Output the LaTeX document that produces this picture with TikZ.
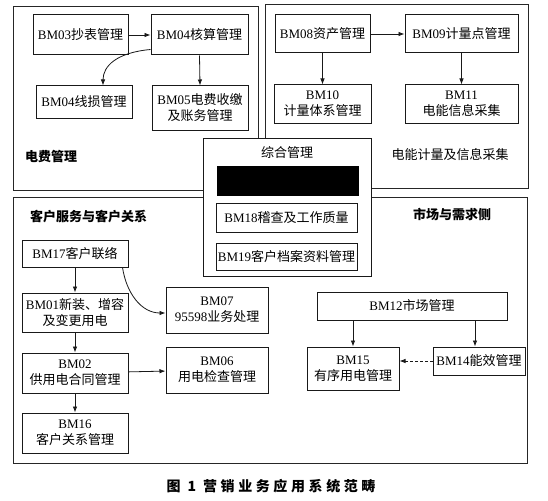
\documentclass[tikz,border=0pt]{standalone}
\usepackage{fontspec}
\setmainfont{Noto Sans CJK SC}
\newfontfamily\lat{Liberation Serif}
\usetikzlibrary{arrows.meta,calc}
\newcommand{\bm}[1]{{\lat BM#1}}
\newcommand{\cs}{\hspace{3.6pt}}
\tikzset{
  frame/.style={draw=black!85, line width=1pt},
  box/.style={draw=black!90, line width=1pt, fill=white, inner sep=0pt, align=center,
    font=\fontsize{13}{16}\selectfont},
  arr/.style={draw=black!90, line width=0.8pt, -{Latex[length=6pt,width=4.5pt]}},
  grp/.style={font=\fontsize{13}{15}\selectfont\bfseries, inner sep=0pt},
  lbl/.style={font=\fontsize{13}{15}\selectfont, inner sep=0pt},
}
\begin{document}
\begin{tikzpicture}[x=1pt,y=-1pt]
\useasboundingbox (0,0) rectangle (548,500);
% group frames
\draw[frame] (13,7) rectangle (258,190);
\draw[frame] (265,5) rectangle (528,188);
\draw[frame] (13,197) rectangle (527,463);

% 电费管理
\node[box, minimum width=95pt, minimum height=40pt] (bm03) at (80.5,35) {\bm{03}抄表管理};
\node[box, minimum width=97pt, minimum height=40pt] (bm04b) at (199.5,35) {\bm{04}核算管理};
\node[box, minimum width=96pt, minimum height=32pt] (bm04l) at (84,102) {\bm{04}线损管理};
\node[box, minimum width=96pt, minimum height=44pt] (bm05) at (200,108) {\bm{05}电费收缴\\及账务管理};
\node[grp, anchor=west] (g1) at (25,157) {电费管理};
\draw[arr] (bm03) -- (bm04b);
\draw[arr] (bm04b.south) -- (bm05.north);
\draw[arr] ([yshift=6pt]bm04b.south west) .. controls +(-33,3) and +(0,-20) .. ([xshift=19pt]bm04l.north);

% 电能计量及信息采集
\node[box, minimum width=95pt, minimum height=38pt] (bm08) at (322.5,34) {\bm{08}资产管理};
\node[box, minimum width=113pt, minimum height=38pt] (bm09) at (461.5,34) {\bm{09}计量点管理};
\node[box, minimum width=97pt, minimum height=38pt] (bm10) at (322.5,104) {\bm{10}\\计量体系管理};
\node[box, minimum width=113pt, minimum height=38pt] (bm11) at (461.5,104) {\bm{11}\\电能信息采集};
\node[lbl] (g2) at (450,155) {电能计量及信息采集};
\draw[arr] (bm08) -- (bm09);
\draw[arr] (bm08) -- (bm10);
\draw[arr] (bm09) -- (bm11);

% 客户服务与客户关系
\node[grp, anchor=west] (g3) at (30,217) {客户服务与客户关系};
\node[box, minimum width=106pt, minimum height=27pt] (bm17) at (75,253.5) {\bm{17}客户联络};
\node[box, minimum width=106pt, minimum height=39pt] (bm01) at (75,312.5) {\bm{01}新装、增容\\及变更用电};
\node[box, minimum width=106pt, minimum height=40pt] (bm02) at (75,373) {\bm{02}\\供用电合同管理};
\node[box, minimum width=106pt, minimum height=40pt] (bm16) at (75,433) {\bm{16}\\客户关系管理};
\node[box, minimum width=102pt, minimum height=46pt] (bm07) at (217,310) {\bm{07}\\{\lat 95598}业务处理};
\node[box, minimum width=102pt, minimum height=46pt] (bm06) at (217,370) {\bm{06}\\用电检查管理};
\draw[arr] (bm17) -- (bm01);
\draw[arr] (bm01) -- (bm02);
\draw[arr] (bm02) -- (bm16);
\draw[arr] (bm02) -- (bm06);
\draw[arr] ([xshift=-6pt]bm17.south east) .. controls +(4,26) and +(-24,0) .. ([yshift=-3pt]bm07.west);

% 市场与需求侧
\node[grp] (g4) at (452,215) {市场与需求侧};
\node[box, minimum width=190pt, minimum height=28pt] (bm12) at (412,306) {\bm{12}市场管理};
\node[box, minimum width=92pt, minimum height=43pt] (bm15) at (353,368.5) {\bm{15}\\有序用电管理};
\node[box, minimum width=92pt, minimum height=28pt] (bm14) at (479,361) {\bm{14}能效管理};
\draw[arr] (bm15.north |- bm12.south) -- (bm15.north);
\draw[arr] ([xshift=-4pt]bm14.north |- bm12.south) -- ([xshift=-4pt]bm14.north);
\draw[arr, dashed, dash pattern=on 3pt off 2pt] (bm14.west) -- (bm14.west -| bm15.east);

% 综合管理
\node[box, minimum width=168pt, minimum height=138pt] (zh) at (287,207) {};
\node[lbl] (zht) at (287,153) {综合管理};
\node[draw=black, fill=black, inner sep=0pt, minimum width=141pt, minimum height=29pt] (blk) at (287.5,180.5) {};
\node[box, minimum width=141pt, minimum height=29pt] (bm18) at (286.5,217.5) {\bm{18}稽查及工作质量};
\node[box, minimum width=141pt, minimum height=27pt] (bm19) at (286.5,256.5) {\bm{19}客户档案资料管理};

% caption
\node[font=\fontsize{14}{16}\selectfont\bfseries, inner sep=0pt] (cap) at (271,486) {图\hspace{7pt}1\hspace{7pt}营\cs 销\cs 业\cs 务\cs 应\cs 用\cs 系\cs 统\cs 范\cs 畴};
\end{tikzpicture}
\end{document}
